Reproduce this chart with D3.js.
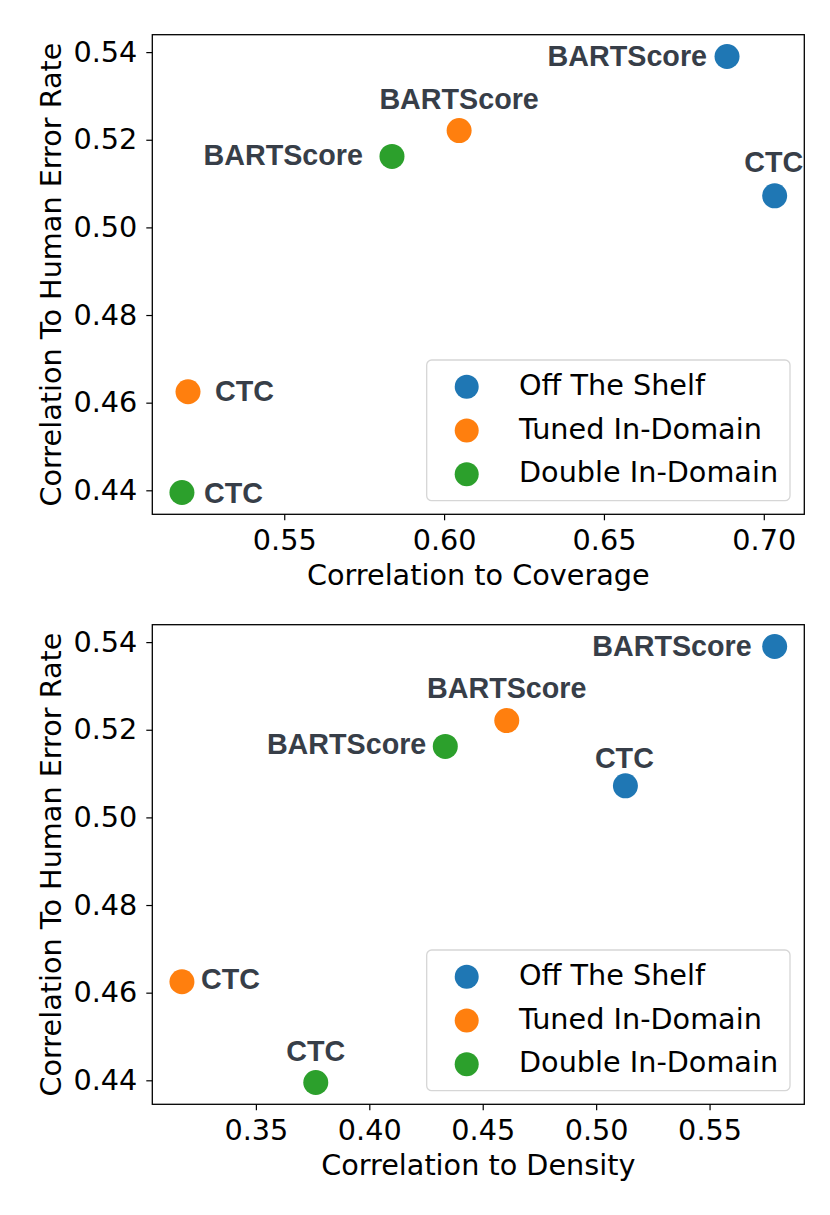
<!DOCTYPE html>
<html>
<head>
<meta charset="utf-8">
<script src="https://cdn.jsdelivr.net/npm/d3@7"></script>
<style>
  html, body { margin: 0; padding: 0; background: #fff; }
  svg { display: block; }
</style>
</head>
<body>
<svg id="chart" width="830" height="1215"></svg>
<script>
// ---- data ----
const groups = ["Off The Shelf", "Tuned In-Domain", "Double In-Domain"];
const metrics = ["BARTScore", "CTC"];
// order: OTS-BART, OTS-CTC, Tuned-BART, Tuned-CTC, Double-BART, Double-CTC
const pointGroup  = ["Off The Shelf", "Off The Shelf", "Tuned In-Domain", "Tuned In-Domain", "Double In-Domain", "Double In-Domain"];
const pointMetric = ["BARTScore", "CTC", "BARTScore", "CTC", "BARTScore", "CTC"];
const humanErrorCorr = [0.539, 0.5072, 0.5221, 0.4625, 0.5162, 0.4395];
const coverageCorr   = [0.6885, 0.7034, 0.6047, 0.5199, 0.5837, 0.5180];
const densityCorr    = [0.5787, 0.5129, 0.4606, 0.3174, 0.4335, 0.3764];
const coverageTicks = [0.55, 0.60, 0.65, 0.70];
const densityTicks  = [0.35, 0.40, 0.45, 0.50, 0.55];
const yTicks = [0.44, 0.46, 0.48, 0.50, 0.52, 0.54];

// ---- styling / layout (not data) ----
const colors = ["#1f77b4", "#ff7f0e", "#2ca02c"];
const labelColor = "#373e48";
const FS = 28.7;
const labelPlacementTop = [
  {anchor: "end", dx: -20, dy: 9},
  {anchor: "middle", dx: -1, dy: -24},
  {anchor: "middle", dx: 0, dy: -22},
  {anchor: "start", dx: 27, dy: 9},
  {anchor: "end", dx: -29, dy: 9},
  {anchor: "start", dx: 22, dy: 10}
];
const labelPlacementBottom = [
  {anchor: "end", dx: -23, dy: 9},
  {anchor: "middle", dx: -1, dy: -18},
  {anchor: "middle", dx: 0, dy: -23},
  {anchor: "start", dx: 19, dy: 7},
  {anchor: "end", dx: -19, dy: 8},
  {anchor: "middle", dx: 0, dy: -22}
];

const svg = d3.select("#chart");
svg.append("rect").attr("width", 830).attr("height", 1215).attr("fill", "#fff");

const color = d3.scaleOrdinal().domain(groups).range(colors);

function padded(vals) {
  const [lo, hi] = d3.extent(vals);
  const m = (hi - lo) * 0.05;
  return [lo - m, hi + m];
}

function panel(xVals, xTicks, xLabel, top, placement) {
  const left = 152.3, right = 804.3, height = 479.6;
  const bottom = top + height;
  const x = d3.scaleLinear().domain(padded(xVals)).range([left, right]);
  const y = d3.scaleLinear().domain(padded(humanErrorCorr)).range([bottom, top]);
  const g = svg.append("g");

  // x axis
  const xAxis = g.append("g").attr("transform", `translate(0,${bottom})`)
    .call(d3.axisBottom(x).tickValues(xTicks).tickFormat(d3.format(".2f")).tickSize(6).tickPadding(9));
  xAxis.select(".domain").remove();
  xAxis.selectAll("line").attr("stroke", "#000").attr("stroke-width", 1.2);
  xAxis.selectAll("text").attr("font-family", "DejaVu Sans").attr("font-size", FS).attr("fill", "#000");

  // y axis
  const yAxis = g.append("g").attr("transform", `translate(${left},0)`)
    .call(d3.axisLeft(y).tickValues(yTicks).tickFormat(d3.format(".2f")).tickSize(6).tickPadding(9));
  yAxis.select(".domain").remove();
  yAxis.selectAll("line").attr("stroke", "#000").attr("stroke-width", 1.2);
  yAxis.selectAll("text").attr("font-family", "DejaVu Sans").attr("font-size", FS).attr("fill", "#000");

  // frame
  g.append("rect").attr("x", left).attr("y", top).attr("width", right - left).attr("height", height)
    .attr("fill", "none").attr("stroke", "#000").attr("stroke-width", 1.3);

  // axis labels
  g.append("text").attr("x", (left + right) / 2).attr("y", bottom + 71)
    .attr("text-anchor", "middle").attr("font-family", "DejaVu Sans").attr("font-size", FS)
    .attr("fill", "#000").text(xLabel);
  g.append("text").attr("transform", `translate(61,${top + height / 2}) rotate(-90)`)
    .attr("text-anchor", "middle").attr("font-family", "DejaVu Sans").attr("font-size", FS)
    .attr("fill", "#000").text("Correlation To Human Error Rate");

  // points
  const idx = d3.range(humanErrorCorr.length);
  g.selectAll("circle.pt").data(idx).join("circle").attr("class", "pt")
    .attr("cx", i => x(xVals[i])).attr("cy", i => y(humanErrorCorr[i]))
    .attr("r", 12.5).attr("fill", i => color(pointGroup[i]));

  // annotations
  g.selectAll("text.ann").data(idx).join("text").attr("class", "ann")
    .attr("x", i => x(xVals[i]) + placement[i].dx)
    .attr("y", i => y(humanErrorCorr[i]) + placement[i].dy)
    .attr("text-anchor", i => placement[i].anchor)
    .attr("font-family", "Liberation Sans, Arial, sans-serif").attr("font-weight", "bold")
    .attr("font-size", FS).attr("fill", labelColor)
    .text(i => pointMetric[i]);

  // legend
  const lg = g.append("g").attr("transform", `translate(426.7,${top + 325.3})`);
  lg.append("rect").attr("x", 0).attr("y", 0).attr("width", 363.3).attr("height", 140.7)
    .attr("rx", 5).attr("fill", "#fff").attr("fill-opacity", 0.8)
    .attr("stroke", "#d6d6d6").attr("stroke-width", 1.3);
  groups.forEach((grp, k) => {
    const cy = 26.7 + k * 43.8;
    lg.append("circle").attr("cx", 40).attr("cy", cy).attr("r", 12).attr("fill", color(grp));
    lg.append("text").attr("x", 92.3).attr("y", cy + 8)
      .attr("font-family", "DejaVu Sans").attr("font-size", FS).attr("fill", "#000").text(grp);
  });
}

panel(coverageCorr, coverageTicks, "Correlation to Coverage", 34.7, labelPlacementTop);
panel(densityCorr, densityTicks, "Correlation to Density", 624.7, labelPlacementBottom);
</script>
</body>
</html>
